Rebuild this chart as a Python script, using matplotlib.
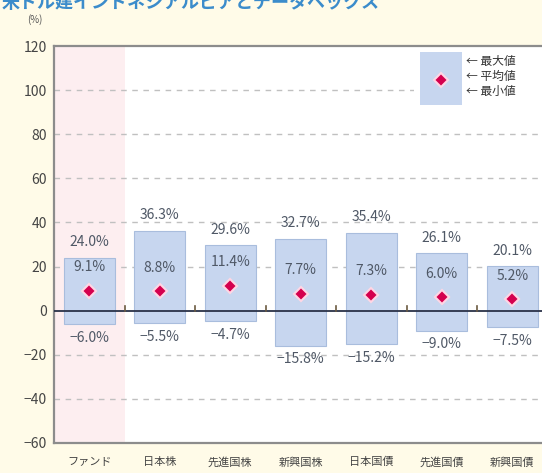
import matplotlib
matplotlib.use("Agg")
import matplotlib.pyplot as plt
from matplotlib.patches import Rectangle

plt.rcParams['font.family'] = ['Noto Sans CJK JP', 'DejaVu Sans']

categories = ["ファンド", "日本株", "先進国株", "新興国株", "日本国債", "先進国債", "新興国債"]
max_vals = [24.0, 36.3, 29.6, 32.7, 35.4, 26.1, 20.1]
mean_vals = [9.1, 8.8, 11.4, 7.7, 7.3, 6.0, 5.2]
min_vals = [-6.0, -5.5, -4.7, -15.8, -15.2, -9.0, -7.5]
yticks = [-60, -40, -20, 0, 20, 40, 60, 80, 100, 120]

W, H = 542, 473
fig = plt.figure(figsize=(W / 100, H / 100), dpi=100)
fig.patch.set_facecolor('#fffbe8')

left_px, top_px, bottom_px = 54, 46, 443
cat_px = 70.5
ax = fig.add_axes([left_px / W, 1 - bottom_px / H, 7 * cat_px / W, (bottom_px - top_px) / H])
ax.set_facecolor('white')
ax.set_xlim(-0.5, 6.5)
ax.set_ylim(-60, 120)

# fund column shading
ax.axvspan(-0.5, 0.5, color='#fdeef0', zorder=0, lw=0)

# grid
for y in [-40, -20, 20, 40, 60, 80, 100]:
    ax.axhline(y, color='#c0c0c0', lw=1.0, ls=(0, (4, 4)), zorder=1)

bw = 0.72
txt_color = '#4f5866'
for i, (mx, mn, me) in enumerate(zip(max_vals, min_vals, mean_vals)):
    ax.bar(i, mx - mn, bottom=mn, width=bw, color='#c7d6ef', edgecolor='#a9bddd', lw=0.8, zorder=2)
    ax.plot(i, me, marker='D', ms=7, color='#d4004e', mec='#ffd6e4', mew=1.5, zorder=4)
    ax.annotate(f"{mx:.1f}%", (i, mx), xytext=(0, 11), textcoords='offset points',
                ha='center', va='center', fontsize=10, color=txt_color, zorder=5)
    ax.annotate(f"{me:.1f}%", (i, me), xytext=(0, 17), textcoords='offset points',
                ha='center', va='center', fontsize=10, color=txt_color, zorder=5)
    ax.annotate(f"{mn:.1f}%".replace('-', '−'), (i, mn), xytext=(0, -10), textcoords='offset points',
                ha='center', va='center', fontsize=10, color=txt_color, zorder=5)

# zero line and category separators
ax.axhline(0, color='#2a3248', lw=1.3, zorder=3)
for b in [0.5, 1.5, 2.5, 3.5, 4.5, 5.5]:
    ax.plot([b, b], [0, 2], color='#6b5a40', lw=1.2, zorder=3)

ax.set_xticks(range(7))
ax.set_xticklabels(categories, fontsize=8, color='#444444')
ax.set_yticks(yticks)
ax.set_yticklabels([str(v).replace('-', '−') for v in yticks], fontsize=10, color='#444444')
ax.tick_params(length=0, pad=5)
ax.tick_params(axis='x', pad=10)
for s in ['left', 'top', 'bottom']:
    ax.spines[s].set_color('#8c8c8c')
    ax.spines[s].set_linewidth(1.6)
ax.spines['right'].set_visible(False)

# legend
def px2data(x, y):
    return ((x - left_px) / cat_px - 0.5, 120 - (y - top_px) / (bottom_px - top_px) * 180)

x0, y0 = px2data(414, 49)
x1, y1 = px2data(542, 108)
ax.add_patch(Rectangle((x0, y1), x1 - x0, y0 - y1, facecolor='white', edgecolor='none', zorder=5))
bx0, by0 = px2data(420, 52)
bx1, by1 = px2data(462, 105)
ax.add_patch(Rectangle((bx0, by1), bx1 - bx0, by0 - by1, facecolor='#c7d6ef', edgecolor='none', zorder=6))
cx, cy = px2data(441, 80)
ax.plot(cx, cy, marker='D', ms=7, color='#d4004e', mec='#ffd6e4', mew=1.5, zorder=7)
for ypx, lab in [(61, "最大値"), (76, "平均値"), (91, "最小値")]:
    tx, ty = px2data(466, ypx)
    ax.text(tx, ty, "← " + lab, fontsize=8.5, color='#333333', va='center', ha='left', zorder=7)

fig.text(35 / W, 1 - 20 / H, "(%)", fontsize=7, color='#555555', ha='center', va='center')
fig.text(2 / W, 1 - 8 / H, "米ドル建インドネシアルピアとデータベックス", fontsize=13, color='#3b8ccb',
         fontweight='bold', ha='left', va='baseline')

fig.savefig("out.png", dpi=100, facecolor=fig.get_facecolor())
